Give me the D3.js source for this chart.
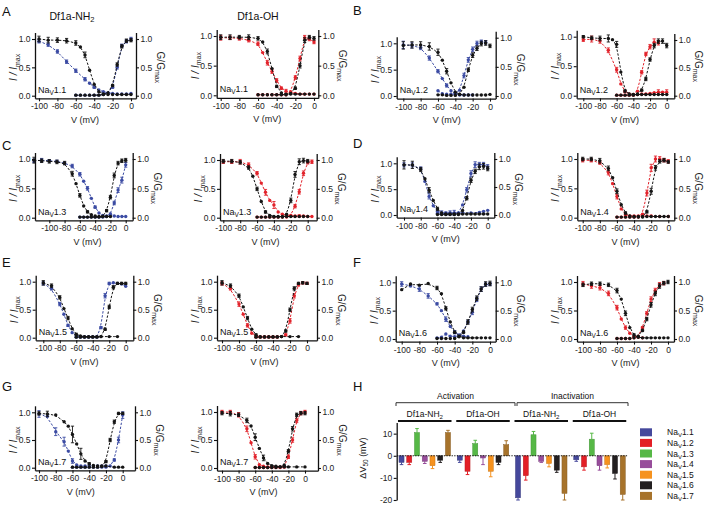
<!DOCTYPE html>
<html><head><meta charset="utf-8">
<script src="https://cdn.jsdelivr.net/npm/d3@7"></script>
<style>body{margin:0;background:#fff}svg{display:block}text{font-family:"Liberation Sans",Arial,Helvetica,sans-serif}</style>
</head><body><svg id="c" width="709" height="506"></svg>
<script>
// ---------- DATA: [V (mV), mean, sem] ----------
const nav11_nh2_ctrlI=[[-100,1.0,.05],[-90,.98,.05],[-80,.98,.04],[-70,.97,.04],[-60,.93,.04],[-55,.86,0],[-50,.72,.05],[-45,.45,0],[-40,.2,0],[-35,.07,0],[-30,.03,0],[-25,.02,0],[-20,.02,0],[-15,.02,0],[-10,.02,0],[-5,.02,0],[0,.02,0]];
const nav11_nh2_toxI=[[-100,.96,.03],[-90,.9,.03],[-80,.78,.03],[-70,.6,.03],[-60,.44,.03],[-50,.29,.03],[-45,.22,0],[-40,.15,.02],[-35,.1,0],[-30,.07,0],[-25,.05,0],[-20,.04,0],[-15,.03,0],[-10,.03,0],[-5,.03,0],[0,.04,0]];
const nav11_nh2_ctrlG=[[-60,.01,0],[-55,.01,0],[-50,.01,0],[-45,.01,0],[-40,.01,0],[-35,.01,0],[-30,.02,0],[-25,.05,0],[-20,.18,.02],[-15,.55,.03],[-10,.87,.03],[-5,.97,.03],[0,.98,.03]];
const nav11_nh2_toxG=[[-60,.01,0],[-55,.01,0],[-50,.01,0],[-45,.01,0],[-40,.01,0],[-35,.01,0],[-30,.02,0],[-25,.04,0],[-20,.15,.02],[-15,.5,.03],[-10,.88,.03],[-5,.96,.03],[0,1.0,.03]];

const nav11_oh_ctrlI=[[-100,.98,.04],[-90,.98,.04],[-80,.98,.03],[-70,.98,.04],[-60,.96,.03],[-55,.9,0],[-50,.74,.04],[-45,.45,0],[-40,.15,.02],[-35,.04,0],[-30,.02,0],[-25,.02,0],[-20,.02,0],[-15,.02,0],[-10,.02,0],[-5,.02,0],[0,.02,0]];
const nav11_oh_toxI=[[-100,.97,.04],[-90,.97,.03],[-80,.96,.03],[-70,.93,.03],[-60,.87,.03],[-55,.72,0],[-50,.55,.04],[-45,.4,.03],[-40,.25,.03],[-35,.12,.02],[-30,.07,.03],[-25,.05,0],[-20,.03,0],[-15,.02,0],[-10,.02,0],[-5,.02,0],[0,.02,0]];
const nav11_oh_ctrlG=[[-60,.01,0],[-55,.01,0],[-50,.01,0],[-45,.01,0],[-40,.01,0],[-35,.01,0],[-30,.01,0],[-25,.03,0],[-20,.12,.02],[-15,.5,.04],[-10,.93,.04],[-5,.98,.03],[0,.96,.03]];
const nav11_oh_toxG=[[-60,.01,0],[-55,.01,0],[-50,.01,0],[-45,.01,0],[-40,.01,0],[-35,.01,0],[-30,.01,0],[-25,.06,0],[-20,.3,.03],[-15,.62,.04],[-10,.97,.04],[-5,.95,.03],[0,.9,.03]];

const nav12_nh2_ctrlI=[[-100,.96,.07],[-90,.97,.06],[-80,.97,.06],[-70,.94,.07],[-60,.83,.06],[-55,.68,0],[-50,.47,.05],[-45,.25,0],[-40,.07,0],[-35,.03,0],[-30,.02,0],[-25,.02,0],[-20,.02,0],[-15,.02,0],[-10,.02,0],[-5,.02,0],[0,.03,0]];
const nav12_nh2_toxI=[[-100,.97,.07],[-90,.96,.05],[-80,.92,.04],[-70,.72,.04],[-60,.47,.03],[-55,.33,0],[-50,.2,.03],[-45,.1,0],[-40,.05,0],[-35,.02,0],[-30,.02,0],[-25,.02,0],[-20,.02,0]];
const nav12_nh2_ctrlG=[[-60,.02,0],[-55,.02,0],[-50,.01,0],[-45,.01,0],[-40,.01,0],[-35,.03,0],[-30,.15,0],[-25,.45,.03],[-20,.7,.04],[-15,.82,.04],[-10,.9,.04],[-5,.91,.04],[0,.86,.03]];
const nav12_nh2_toxG=[[-60,.09,0],[-55,.04,0],[-50,.03,0],[-45,.03,0],[-40,.03,0],[-35,.1,0],[-30,.35,.04],[-25,.62,.04],[-20,.8,.04],[-15,.9,.04],[-10,.93,.03],[-5,.92,.03]];

const nav12_oh_ctrlI=[[-100,1.0,.02],[-90,.98,.03],[-80,.97,.04],[-70,.97,.06],[-65,.95,0],[-60,.87,.05],[-55,.4,0],[-50,.08,.02],[-45,.03,0],[-40,.02,0],[-35,.02,0],[-30,.02,0],[-25,.02,0],[-20,.02,0],[-15,.02,0],[-10,.02,0],[-5,.02,0],[0,.02,0]];
const nav12_oh_toxI=[[-100,.95,.03],[-90,.96,.05],[-80,.93,.04],[-70,.77,.04],[-60,.44,.04],[-55,.2,0],[-50,.07,.02],[-45,.03,0],[-40,.02,0],[-35,.02,0],[-30,.03,0],[-25,.03,0],[-20,.04,0],[-15,.05,0],[-10,.06,.04],[-5,.06,0],[0,.06,.04]];
const nav12_oh_ctrlG=[[-60,.01,0],[-55,.01,0],[-50,.01,0],[-45,.01,0],[-40,.01,0],[-35,.03,0],[-30,.1,.02],[-25,.3,.03],[-20,.65,.03],[-15,.9,.04],[-10,.98,.04],[-5,.98,.04],[0,.9,.04]];
const nav12_oh_toxG=[[-60,.01,0],[-55,.01,0],[-50,.01,0],[-45,.01,0],[-40,.01,0],[-35,.08,0],[-30,.42,.03],[-25,.75,.03],[-20,.88,.04],[-15,.96,.06],[-10,.95,.04]];

const nav13_nh2_ctrlI=[[-120,.98,.05],[-110,.97,.03],[-100,.96,.03],[-90,.95,.03],[-80,.93,.03],[-70,.75,.04],[-65,.58,0],[-60,.38,.03],[-55,.2,0],[-50,.1,.02],[-45,.05,0],[-40,.03,0],[-35,.02,0],[-30,.02,0],[-25,.02,0],[-20,.02,0]];
const nav13_nh2_toxI=[[-120,.97,.03],[-110,.98,.03],[-100,.97,.02],[-90,.96,.02],[-80,.93,.02],[-70,.88,.03],[-60,.74,.03],[-55,.62,0],[-50,.5,.03],[-45,.33,0],[-40,.18,.02],[-35,.08,0],[-30,.04,0],[-25,.03,0],[-20,.03,0],[-15,.03,0],[-10,.02,0],[-5,.02,0],[0,.02,0]];
const nav13_nh2_ctrlG=[[-60,.01,0],[-55,.01,0],[-50,.01,0],[-45,.01,0],[-40,.01,0],[-35,.01,0],[-30,.02,0],[-25,.12,.02],[-20,.35,.03],[-15,.72,.04],[-10,.93,.03],[-5,.97,.03],[0,.98,.03]];
const nav13_nh2_toxG=[[-60,.01,0],[-55,.01,0],[-50,.01,0],[-45,.01,0],[-40,.01,0],[-35,.01,0],[-30,.01,0],[-25,.02,0],[-20,.06,.02],[-15,.25,.03],[-10,.47,.04],[-5,.64,.05],[0,.9,.04]];

const nav13_oh_ctrlI=[[-100,.98,.03],[-90,.98,.03],[-80,.96,.03],[-70,.87,.03],[-65,.72,0],[-60,.5,.03],[-55,.28,0],[-50,.1,.02],[-45,.04,0],[-40,.02,0],[-35,.02,0],[-30,.02,0],[-25,.02,0],[-20,.02,0],[-15,.02,0],[-10,.02,0],[-5,.02,0],[0,.02,0]];
const nav13_oh_toxI=[[-100,.97,.03],[-90,.97,.03],[-80,.97,.04],[-70,.92,.03],[-60,.77,.03],[-55,.6,0],[-50,.44,.05],[-45,.3,0],[-40,.22,.06],[-35,.1,0],[-30,.06,0],[-25,.04,0],[-20,.03,0],[-15,.03,0],[-10,.03,.02],[-5,.03,0],[0,.02,0],[5,.02,0]];
const nav13_oh_ctrlG=[[-60,.01,0],[-55,.01,0],[-50,.01,0],[-45,.01,0],[-40,.01,0],[-35,.01,0],[-30,.01,0],[-25,.06,0],[-20,.3,.04],[-15,.75,.05],[-10,.97,.05],[-5,.99,.04],[0,.98,.03]];
const nav13_oh_toxG=[[-60,.01,0],[-55,.01,0],[-50,.01,0],[-45,.01,0],[-40,.01,0],[-35,.01,0],[-30,.01,0],[-25,.01,0],[-20,.04,0],[-15,.2,.03],[-10,.45,.04],[-5,.77,.04],[0,.96,.03],[5,.97,.03]];

const nav14_nh2_ctrlI=[[-100,.97,.08],[-90,.97,.07],[-80,.88,.04],[-75,.7,0],[-70,.48,.05],[-65,.28,0],[-60,.12,.03],[-55,.04,0],[-50,.02,0],[-45,.02,0],[-40,.02,0],[-35,.02,0],[-30,.02,0],[-25,.02,0],[-20,.02,0],[-15,.02,0],[-10,.02,0],[-5,.02,0],[0,.02,0]];
const nav14_nh2_toxI=[[-100,.97,.04],[-90,.97,.04],[-80,.9,.03],[-75,.65,0],[-70,.36,.05],[-65,.18,0],[-60,.07,.03],[-55,.04,.04],[-50,.03,.03],[-45,.04,.04],[-40,.04,.05],[-35,.04,0],[-30,.04,0],[-20,.04,0],[-10,.05,0],[-5,.07,0],[0,.09,0]];
const nav14_nh2_ctrlG=[[-60,.01,0],[-55,.01,0],[-50,.01,0],[-45,.01,0],[-40,.01,0],[-35,.01,0],[-30,.08,0],[-25,.3,.03],[-20,.62,.04],[-15,.78,.04],[-10,.86,.05],[-5,.87,.05],[0,.83,.04]];
const nav14_nh2_toxG=[[-60,.03,0],[-55,.03,0],[-50,.03,0],[-45,.03,0],[-40,.03,0],[-35,.03,0],[-30,.18,0],[-25,.45,.04],[-20,.74,.05],[-15,.9,.05],[-10,.9,.04],[-5,.9,.04],[0,.86,.04]];

const nav14_oh_ctrlI=[[-100,1.0,.03],[-90,1.0,.03],[-80,.97,.04],[-70,.84,.04],[-65,.68,0],[-60,.45,.04],[-55,.22,0],[-50,.08,.02],[-45,.03,0],[-40,.02,0],[-35,.02,0],[-30,.02,0],[-25,.02,0],[-20,.02,0],[-15,.02,0],[-10,.02,0],[-5,.02,0],[0,.02,0]];
const nav14_oh_toxI=[[-100,.98,.03],[-90,.98,.03],[-80,.94,.03],[-70,.77,.04],[-65,.58,0],[-60,.36,.04],[-55,.15,0],[-50,.05,.02],[-45,.03,0],[-40,.03,0],[-35,.03,0],[-30,.03,0],[-25,.03,0],[-20,.03,0],[-10,.02,0],[0,.02,0]];
const nav14_oh_ctrlG=[[-60,.01,0],[-55,.01,0],[-50,.01,0],[-45,.01,0],[-40,.01,0],[-35,.01,0],[-30,.01,0],[-25,.1,.02],[-20,.45,.05],[-15,.85,.04],[-10,.96,.03],[-5,.98,.03],[0,.95,.02]];
const nav14_oh_toxG=[[-60,.01,0],[-55,.01,0],[-50,.01,0],[-45,.01,0],[-40,.01,0],[-35,.01,0],[-30,.06,0],[-25,.42,.05],[-20,.85,.06],[-15,1.0,.05],[-10,1.0,.04],[-5,.98,.03],[0,.96,.03]];

const nav15_nh2_ctrlI=[[-100,.98,.04],[-90,.93,.03],[-80,.72,.03],[-75,.52,0],[-70,.35,.03],[-65,.16,0],[-60,.06,.02],[-55,.03,0],[-50,.02,0],[-45,.02,0],[-40,.02,0],[-35,.02,0],[-30,.02,0],[-20,.02,0],[-10,.02,0]];
const nav15_nh2_toxI=[[-100,.97,.03],[-90,.88,.03],[-80,.6,.03],[-75,.42,0],[-70,.22,.02],[-65,.09,0],[-60,.03,.02],[-55,.02,0],[-50,.02,0],[-45,.02,0],[-40,.02,0],[-35,.02,0]];
const nav15_nh2_ctrlG=[[-60,.01,0],[-55,.01,0],[-50,.01,0],[-45,.01,0],[-40,.01,0],[-35,.01,0],[-30,.02,0],[-25,.15,.02],[-20,.55,.03],[-15,.9,.03],[-10,.97,.02],[-5,.97,.02],[0,.97,.02]];
const nav15_nh2_toxG=[[-60,.01,0],[-55,.01,0],[-50,.01,0],[-45,.01,0],[-40,.01,0],[-35,.01,0],[-30,.18,.02],[-25,.75,.04],[-20,.97,.02],[-15,.98,0],[-10,.97,0],[-5,.96,0],[0,.92,0]];

const nav15_oh_ctrlI=[[-100,.98,.04],[-90,.93,.03],[-80,.75,.03],[-75,.55,0],[-70,.35,.03],[-65,.15,0],[-60,.05,.02],[-55,.02,0],[-50,.02,0],[-45,.02,0],[-40,.02,0],[-35,.02,0],[-30,.02,0],[-20,.02,0],[-10,.02,0]];
const nav15_oh_toxI=[[-100,.97,.03],[-90,.88,.03],[-80,.6,.04],[-75,.42,0],[-70,.22,.03],[-65,.08,0],[-60,.03,0],[-55,.02,0],[-50,.02,0],[-45,.02,0],[-40,.02,0],[-35,.02,0]];
const nav15_oh_ctrlG=[[-60,.01,0],[-55,.01,0],[-50,.01,0],[-45,.01,0],[-40,.01,0],[-35,.01,0],[-30,.02,0],[-25,.12,.02],[-20,.5,.03],[-15,.88,.03],[-10,.97,.02],[-5,.98,.02],[0,.97,.02]];
const nav15_oh_toxG=[[-60,.01,0],[-55,.01,0],[-50,.01,0],[-45,.01,0],[-40,.01,0],[-35,.01,0],[-30,.02,0],[-25,.05,.02],[-20,.3,.04],[-15,.75,.04],[-10,.95,.03],[-5,.98,.02],[0,.97,.02]];

const nav16_nh2_ctrlI=[[-100,.87,0],[-90,.97,0],[-80,.95,0],[-70,.98,0],[-60,.9,.03],[-55,.8,0],[-50,.54,.03],[-45,.3,0],[-40,.12,.02],[-35,.05,0],[-30,.02,0],[-25,.02,0],[-20,.02,0],[-15,.02,0],[-10,.02,0],[-5,.02,0],[0,.02,0]];
const nav16_nh2_toxI=[[-100,.97,.04],[-90,.94,.02],[-80,.88,.04],[-70,.76,.04],[-60,.62,.02],[-55,.5,0],[-50,.35,.04],[-45,.22,0],[-40,.12,.03],[-35,.07,0],[-30,.05,0],[-25,.04,0]];
const nav16_nh2_ctrlG=[[-60,.01,0],[-55,.01,0],[-50,.01,0],[-45,.01,0],[-40,.01,0],[-35,.04,0],[-30,.12,.02],[-25,.3,.04],[-20,.52,.04],[-15,.72,.04],[-10,.88,.04],[-5,.97,.04],[0,.98,.04]];
const nav16_nh2_toxG=[[-60,.02,0],[-55,.03,0],[-50,.09,0],[-45,.05,0],[-40,.04,0],[-35,.06,0],[-30,.14,0],[-25,.3,.03],[-20,.47,.04],[-15,.7,.04],[-10,.88,.04],[-5,.96,.03],[0,.97,.03]];

const nav16_oh_ctrlI=[[-100,.95,.03],[-90,.97,.03],[-80,.97,.03],[-70,.95,.03],[-60,.85,.04],[-55,.7,0],[-50,.45,.04],[-45,.2,0],[-40,.07,.02],[-35,.03,0],[-30,.02,0],[-25,.02,0],[-20,.02,0],[-15,.02,0],[-10,.02,0],[-5,.02,0],[0,.02,0]];
const nav16_oh_toxI=[[-100,.97,.04],[-90,.93,.04],[-80,.9,.04],[-70,.8,.04],[-60,.55,.04],[-55,.35,0],[-50,.2,.03],[-45,.1,0],[-40,.05,0],[-35,.03,0],[-30,.02,0]];
const nav16_oh_ctrlG=[[-60,.01,0],[-55,.01,0],[-50,.01,0],[-45,.01,0],[-40,.02,0],[-35,.05,0],[-30,.15,.02],[-25,.35,.03],[-20,.6,.04],[-15,.8,.04],[-10,.93,.04],[-5,.98,.03],[0,1.0,.03]];
const nav16_oh_toxG=[[-60,.01,0],[-55,.01,0],[-50,.01,0],[-45,.01,0],[-40,.02,0],[-35,.05,0],[-30,.2,.02],[-25,.45,.03],[-20,.7,.04],[-15,.85,.04],[-10,.95,.04],[-5,.98,.03]];

const nav17_nh2_ctrlI=[[-100,.98,.03],[-90,.97,.05],[-80,.95,0],[-70,.83,0],[-65,.75,0],[-60,.6,.15],[-55,.43,0],[-50,.25,.1],[-45,.12,0],[-40,.07,.02],[-35,.04,0],[-30,.03,0],[-25,.03,0],[-20,.03,0],[-10,.01,0],[-5,.01,0],[0,.01,0]];
const nav17_nh2_toxI=[[-100,.97,.06],[-90,.93,0],[-80,.65,.07],[-70,.47,.08],[-65,.3,0],[-60,.12,.04],[-55,.05,0],[-50,.03,0],[-45,.03,0],[-40,.03,0],[-35,.03,0],[-30,.03,0],[-25,.03,0],[-20,.03,0]];
const nav17_nh2_ctrlG=[[-60,.01,0],[-55,.01,0],[-50,.01,0],[-45,.01,0],[-40,.01,0],[-35,.01,0],[-30,.01,0],[-25,.02,0],[-20,.11,.02],[-15,.5,.03],[-10,.83,.03],[-5,.98,.02],[0,.98,.02]];
const nav17_nh2_toxG=[[-60,.01,0],[-55,.01,0],[-50,.01,0],[-45,.01,0],[-40,.01,0],[-35,.01,0],[-30,.01,0],[-25,.01,0],[-20,.01,0],[-15,.03,0],[-10,.14,.02],[-5,.5,.05],[0,.95,.06]];

const nav17_oh_ctrlI=[[-100,.98,.03],[-90,.97,.04],[-80,.95,.03],[-70,.85,.04],[-65,.75,0],[-60,.55,.06],[-55,.35,0],[-50,.18,.05],[-45,.08,0],[-40,.04,0],[-35,.03,0],[-30,.02,0],[-25,.02,0],[-20,.02,0],[-10,.02,0],[0,.02,0]];
const nav17_oh_toxI=[[-100,1.0,.03],[-90,1.0,.03],[-80,.95,.04],[-70,.7,.05],[-65,.45,0],[-60,.2,.04],[-55,.06,0],[-50,.03,0],[-45,.02,0],[-40,.02,0],[-35,.02,0],[-30,.02,0],[-25,.02,0]];
const nav17_oh_ctrlG=[[-60,.01,0],[-55,.01,0],[-50,.01,0],[-45,.01,0],[-40,.01,0],[-35,.01,0],[-30,.02,0],[-25,.05,0],[-20,.3,.03],[-15,.7,.04],[-10,.95,.03],[-5,.98,.03],[0,.98,.03]];
const nav17_oh_toxG=[[-60,.01,0],[-55,.01,0],[-50,.01,0],[-45,.01,0],[-40,.01,0],[-35,.01,0],[-30,.01,0],[-25,.02,0],[-20,.2,.03],[-15,.5,.04],[-10,.85,.04],[-5,.98,.03],[0,1.0,.03]];

// bar chart (panel H)
const channels=['1.1','1.2','1.3','1.4','1.5','1.6','1.7'];
const barGroups=['Act NH2','Act OH','Inact NH2','Inact OH'];
const actNH2=[-3,-3,10.5,-2.5,-4.5,-2,10.5];
const actNH2Err=[1,1,1.8,1,1.3,1,1];
const actOH=[-2,-7,5.5,-1,-7,-3,5];
const actOHErr=[1,1.5,1.5,3,2.5,1,1.8];
const inaNH2=[-19,-9,9.5,-2.5,-3.5,-6.5,-17];
const inaNH2Err=[1,2,1.5,0.5,1.5,1,3];
const inaOH=[-1.8,-5,7.5,-4.5,-4,-8,-17.5];
const inaOHErr=[0.7,1.5,2.7,2,1.5,2.5,2.5];
const barTicks=[-20,-10,0,10];
const unitTicks=[0,0.5,1];
const vTicks=[-100,-80,-60,-40,-20,0];

// ---------- DRAWING ----------
const svg=d3.select('#c');
const BLUE='#3b4ba3',RED='#e2232b',BLACK='#151515';
const barColors=['#45489c','#e31f26','#56b846','#974d9b','#f6921e','#231f20','#a7732b'];

const panels=[
 {x0:35,x1:136,pm:39,p0:131,yOne:39,yZero:95.7,gOne:39,ch:'1.1',col:BLUE,s:[nav11_nh2_toxI,nav11_nh2_toxG,nav11_nh2_ctrlI,nav11_nh2_ctrlG]},
 {x0:216.7,x1:318.3,pm:220.7,p0:314,yOne:36,yZero:95.3,gOne:36,ch:'1.1',col:RED,s:[nav11_oh_toxI,nav11_oh_toxG,nav11_oh_ctrlI,nav11_oh_ctrlG]},
 {x0:396.7,x1:495.7,pm:403.3,p0:490,yOne:43.3,yZero:96,gOne:37.7,ch:'1.2',col:BLUE,s:[nav12_nh2_toxI,nav12_nh2_toxG,nav12_nh2_ctrlI,nav12_nh2_ctrlG]},
 {x0:576.7,x1:674.3,pm:583.3,p0:666.7,yOne:36.7,yZero:95.7,gOne:40,ch:'1.2',col:RED,s:[nav12_oh_toxI,nav12_oh_toxG,nav12_oh_ctrlI,nav12_oh_ctrlG]},
 {x0:35,x1:132.7,pm:49.3,p0:125.7,yOne:159,yZero:217.7,gOne:159,ch:'1.3',col:BLUE,s:[nav13_nh2_toxI,nav13_nh2_toxG,nav13_nh2_ctrlI,nav13_nh2_ctrlG]},
 {x0:220,x1:316.7,pm:223.3,p0:307.7,yOne:160,yZero:217.7,gOne:160,ch:'1.3',col:RED,s:[nav13_oh_toxI,nav13_oh_toxG,nav13_oh_ctrlI,nav13_oh_ctrlG]},
 {x0:396.7,x1:494.3,pm:404,p0:487.7,yOne:163.3,yZero:215,gOne:159,ch:'1.4',col:BLUE,s:[nav14_nh2_toxI,nav14_nh2_toxG,nav14_nh2_ctrlI,nav14_nh2_ctrlG]},
 {x0:577.3,x1:674.3,pm:582.7,p0:668.3,yOne:159,yZero:217.7,gOne:159,ch:'1.4',col:RED,s:[nav14_oh_toxI,nav14_oh_toxG,nav14_oh_ctrlI,nav14_oh_ctrlG]},
 {x0:35.7,x1:133.3,pm:43.3,p0:125.7,yOne:281.7,yZero:337.7,gOne:281.7,ch:'1.5',col:BLUE,s:[nav15_nh2_toxI,nav15_nh2_toxG,nav15_nh2_ctrlI,nav15_nh2_ctrlG]},
 {x0:217,x1:317,pm:222,p0:307,yOne:281.7,yZero:337.7,gOne:281.7,ch:'1.5',col:RED,s:[nav15_oh_toxI,nav15_oh_toxG,nav15_oh_ctrlI,nav15_oh_ctrlG]},
 {x0:395.7,x1:495.7,pm:401.7,p0:490,yOne:282.3,yZero:339,gOne:282.3,ch:'1.6',col:BLUE,s:[nav16_nh2_toxI,nav16_nh2_toxG,nav16_nh2_ctrlI,nav16_nh2_ctrlG]},
 {x0:577,x1:674,pm:583,p0:668,yOne:282,yZero:339,gOne:282,ch:'1.6',col:RED,s:[nav16_oh_toxI,nav16_oh_toxG,nav16_oh_ctrlI,nav16_oh_ctrlG]},
 {x0:35,x1:135,pm:39,p0:122.7,yOne:412.3,yZero:467.7,gOne:412.3,ch:'1.7',col:BLUE,s:[nav17_nh2_toxI,nav17_nh2_toxG,nav17_nh2_ctrlI,nav17_nh2_ctrlG]},
 {x0:217,x1:318,pm:222,p0:305,yOne:412,yZero:468,gOne:412,ch:'1.7',col:RED,s:[nav17_oh_toxI,nav17_oh_toxG,nav17_oh_ctrlI,nav17_oh_ctrlG]}
];

function styleAxis(g){
  g.attr('font-size',8.5).attr('font-family','"Liberation Sans",Arial,sans-serif');
  g.selectAll('path.domain').attr('stroke','#111').attr('stroke-width',1.3);
  g.selectAll('.tick line').attr('stroke','#111').attr('stroke-width',1.1);
  g.selectAll('.tick text').attr('fill','#222');
}

function drawSeries(g,data,xs,ys,color){
  g.append('path').datum(data)
    .attr('d',d3.line().x(d=>xs(d[0])).y(d=>ys(d[1])).curve(d3.curveBasis))
    .attr('fill','none').attr('stroke',color).attr('stroke-width',1).attr('stroke-dasharray','2.4,1.6');
  const eb=g.selectAll(null).data(data.filter(d=>d[2]>0)).enter().append('g').attr('stroke',color).attr('stroke-width',0.9);
  eb.append('line').attr('x1',d=>xs(d[0])).attr('x2',d=>xs(d[0])).attr('y1',d=>ys(d[1]-d[2])).attr('y2',d=>ys(d[1]+d[2]));
  eb.append('line').attr('x1',d=>xs(d[0])-1.6).attr('x2',d=>xs(d[0])+1.6).attr('y1',d=>ys(d[1]-d[2])).attr('y2',d=>ys(d[1]-d[2]));
  eb.append('line').attr('x1',d=>xs(d[0])-1.6).attr('x2',d=>xs(d[0])+1.6).attr('y1',d=>ys(d[1]+d[2])).attr('y2',d=>ys(d[1]+d[2]));
  g.selectAll(null).data(data).enter().append('circle')
    .attr('cx',d=>xs(d[0])).attr('cy',d=>ys(d[1])).attr('r',1.7).attr('fill',color);
}

panels.forEach(p=>{
  const g=svg.append('g');
  const xs=d3.scaleLinear().domain([-100,0]).range([p.pm,p.p0]);
  const yI=d3.scaleLinear().domain([0,1]).range([p.yZero,p.yOne]);
  const yG=d3.scaleLinear().domain([0,1]).range([p.yZero,p.gOne]);
  const axY=p.yZero+2.6;
  const xa=xs.copy().domain([xs.invert(p.x0),xs.invert(p.x1)]).range([p.x0,p.x1]);
  const ya=yI.copy().domain([yI.invert(axY),yI.invert(p.yOne-6.5)]).range([axY,p.yOne-6.5]);
  const ga=yG.copy().domain([yG.invert(axY),yG.invert(p.gOne-6.5)]).range([axY,p.gOne-6.5]);
  drawSeries(g,p.s[0],xs,yI,p.col);
  drawSeries(g,p.s[1],xs,yG,p.col);
  drawSeries(g,p.s[2],xs,yI,BLACK);
  drawSeries(g,p.s[3],xs,yG,BLACK);
  styleAxis(g.append('g').attr('transform',`translate(0,${axY})`)
    .call(d3.axisBottom(xa).tickValues(vTicks).tickFormat(d=>String(d)).tickSize(3).tickSizeOuter(0).tickPadding(2)));
  styleAxis(g.append('g').attr('transform',`translate(${p.x0},0)`)
    .call(d3.axisLeft(ya).tickValues(unitTicks).tickFormat(d3.format('.1f')).tickSize(3).tickSizeOuter(0).tickPadding(1.5)));
  styleAxis(g.append('g').attr('transform',`translate(${p.x1},0)`)
    .call(d3.axisRight(ga).tickValues(unitTicks).tickFormat(d3.format('.1f')).tickSize(3).tickSizeOuter(0).tickPadding(1.5)));
  const lt=g.append('text').attr('x',p.x0+3).attr('y',p.yZero-3).attr('font-size',9).attr('fill','#111');
  lt.append('tspan').text('Na');
  lt.append('tspan').attr('font-size',6.5).attr('dy',2).text('V');
  lt.append('tspan').attr('dy',-2).text(p.ch);
  g.append('text').attr('x',(xs(-100)+xs(0))/2).attr('y',p.yZero+27).attr('text-anchor','middle').attr('font-size',9).attr('fill','#222').text('V (mV)');
  const cy=(p.yOne+p.yZero)/2;
  const t1=g.append('text').attr('transform',`translate(${p.x0-18},${cy}) rotate(-90)`).attr('text-anchor','middle').attr('font-size',10).attr('fill','#222');
  t1.append('tspan').attr('font-style','italic').text('I / I');
  t1.append('tspan').attr('font-size',7).attr('dy',2.5).text('max');
  const t2=g.append('text').attr('transform',`translate(${p.x1+21},${cy}) rotate(90)`).attr('text-anchor','middle').attr('font-size',10).attr('fill','#222');
  t2.append('tspan').text('G/G');
  t2.append('tspan').attr('font-size',7).attr('dy',2.5).text('max');
});

function subText(sel,x,y,parts,size,anchor){
  const t=sel.append('text').attr('x',x).attr('y',y).attr('font-size',size).attr('text-anchor',anchor||'middle').attr('fill','#111');
  parts.forEach(([s,sub])=>{
    if(sub) t.append('tspan').attr('font-size',size*0.72).attr('dy',size*0.25).text(s);
    else t.append('tspan').text(s);
  });
  return t;
}
subText(svg,72,19.5,[['Df1a-NH'],['2',1]],10.5);
subText(svg,258,19.5,[['Df1a-OH']],10.5);

[['A',2,16],['B',353,15],['C',2,150],['D',353,148],['E',2,267],['F',353,267],['G',2,391],['H',353,391]]
 .forEach(([l,x,y])=>svg.append('text').attr('x',x).attr('y',y).attr('font-size',13).attr('fill','#111').text(l));

// ---------- PANEL H ----------
const hb=svg.append('g');
const yB=d3.scaleLinear().domain([-20,15]).range([500,422.6]);
const gx=d3.scaleBand().domain(barGroups).range([399,632]).padding(0);
const cx=d3.scaleBand().domain(channels).range([0,51.5]).paddingInner(0.35).paddingOuter(0);
const groupVals=[[actNH2,actNH2Err],[actOH,actOHErr],[inaNH2,inaNH2Err],[inaOH,inaOHErr]];
groupVals.forEach(([vals,errs],gi)=>{
  const gg=hb.append('g').attr('transform',`translate(${gx(barGroups[gi])},0)`);
  const rows=channels.map((c,i)=>({c,v:vals[i],e:errs[i],col:barColors[i]}));
  const eb=gg.selectAll(null).data(rows).enter().append('g').attr('stroke',d=>d.col).attr('stroke-width',1);
  const endY=d=>yB(d.v+(d.v>=0?d.e:-d.e));
  eb.append('line').attr('x1',d=>cx(d.c)+cx.bandwidth()/2).attr('x2',d=>cx(d.c)+cx.bandwidth()/2).attr('y1',d=>yB(d.v)).attr('y2',endY);
  eb.append('line').attr('x1',d=>cx(d.c)+cx.bandwidth()/2-1.8).attr('x2',d=>cx(d.c)+cx.bandwidth()/2+1.8).attr('y1',endY).attr('y2',endY);
  gg.selectAll(null).data(rows).enter().append('rect')
    .attr('x',d=>cx(d.c)).attr('width',cx.bandwidth())
    .attr('y',d=>Math.min(yB(0),yB(d.v))).attr('height',d=>Math.abs(yB(d.v)-yB(0)))
    .attr('fill',d=>d.col).attr('stroke',d=>d3.color(d.col).darker(0.6)).attr('stroke-width',0.5);
});
hb.append('line').attr('x1',397).attr('x2',628).attr('y1',yB(0)).attr('y2',yB(0)).attr('stroke','#111').attr('stroke-width',1).attr('stroke-dasharray','1.3,1.3');
styleAxis(hb.append('g').attr('transform','translate(396.7,0)').call(d3.axisLeft(yB).tickValues(barTicks).tickFormat(d=>String(d)).tickSize(3).tickSizeOuter(0).tickPadding(1.5)));
const yt=hb.append('text').attr('transform',`translate(366,458) rotate(-90)`).attr('text-anchor','middle').attr('font-size',9).attr('fill','#222');
yt.append('tspan').text('ΔV');
yt.append('tspan').attr('font-size',6.5).attr('dy',2).text('50');
yt.append('tspan').attr('dy',-2).text(' (mV)');
function bracket(xa,xb,label){
  hb.append('path').attr('d',`M${xa},406 V402.7 H${xb} V406`).attr('fill','none').attr('stroke','#333').attr('stroke-width',1);
  hb.append('text').attr('x',(xa+xb)/2).attr('y',399).attr('text-anchor','middle').attr('font-size',8.5).attr('fill','#111').text(label);
}
bracket(396,515,'Activation');
bracket(517,628,'Inactivation');
const subLabels=[[['Df1a-NH'],['2',1]],[['Df1a-OH']],[['Df1a-NH'],['2',1]],[['Df1a-OH']]];
barGroups.forEach((gname,i)=>{
  const x0=gx(gname), x1=gx(gname)+51.5;
  hb.append('line').attr('x1',x0-1).attr('x2',x1+1).attr('y1',421).attr('y2',421).attr('stroke','#111').attr('stroke-width',2);
  subText(hb,(x0+x1)/2,416.5,subLabels[i],8.5);
});
channels.forEach((c,i)=>{
  const y=432.3+i*10.6;
  hb.append('rect').attr('x',640).attr('y',y-4).attr('width',12).attr('height',8).attr('fill',barColors[i]);
  const t=hb.append('text').attr('x',667).attr('y',y+3).attr('font-size',8.5).attr('fill','#111');
  t.append('tspan').text('Na');
  t.append('tspan').attr('font-size',6).attr('dy',2).text('V');
  t.append('tspan').attr('dy',-2).text(c);
});
</script></body></html>
